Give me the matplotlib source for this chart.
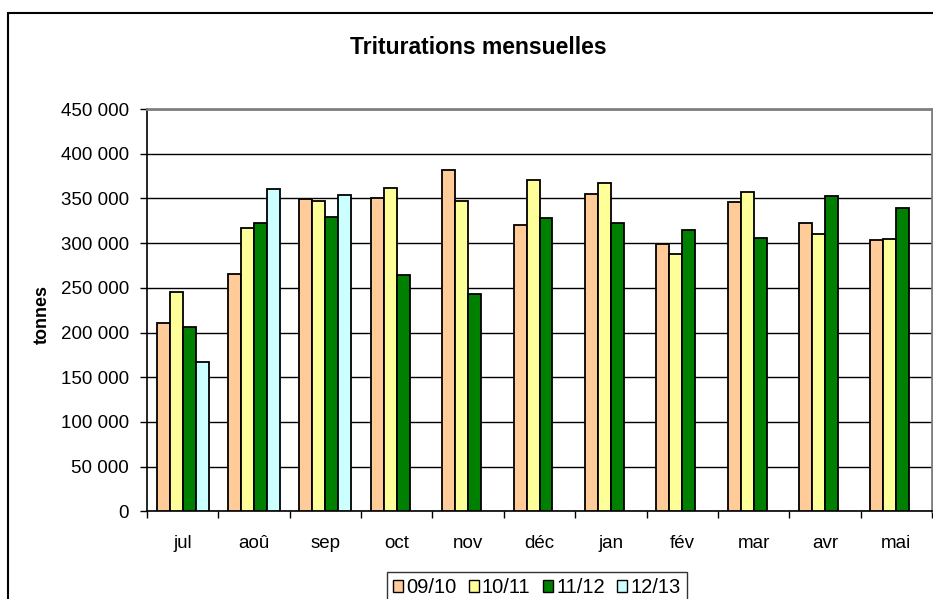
import numpy as np
import matplotlib
matplotlib.use("Agg")
import matplotlib.pyplot as plt
from matplotlib.patches import Patch, Rectangle
from matplotlib.ticker import FuncFormatter

plt.rcParams['font.family'] = ['Liberation Sans', 'DejaVu Sans']

# données (tonnes)
mois = ["jul", "aoû", "sep", "oct", "nov", "déc", "jan", "fév", "mar", "avr", "mai"]
c0910 = [211000, 265000, 349600, 350700, 382000, 320000, 354800, 299300, 346300, 322000, 303400]
c1011 = [245000, 317000, 346600, 361500, 346600, 370500, 366800, 287700, 357100, 310400, 304500]
c1112 = [206000, 323000, 329000, 264500, 243600, 328000, 323000, 314200, 305600, 352600, 338800]
c1213 = [167000, 360800, 353700]
campagnes = ["09/10", "10/11", "11/12", "12/13"]
couleurs = ["#FFCC99", "#FFFF99", "#008000", "#CCFFFF"]

W, H = 933, 599
fig = plt.figure(figsize=(W / 100, H / 100), dpi=100)
ax = fig.add_axes([147 / W, (H - 511.3) / H, (932 - 147) / W, (511.3 - 109) / H])

x = np.arange(len(mois))
w = 1 / 5.5  # gap width 150 %
series = [c0910, c1011, c1112, c1213]
for i, (vals, col) in enumerate(zip(series, couleurs)):
    xs = x[:len(vals)] + (i - 1.5) * w
    ax.bar(xs, vals, width=w, color=col, edgecolor="black", linewidth=1.3, zorder=3)

ax.set_xlim(-0.5, len(mois) - 0.5)
ax.set_ylim(0, 450000)
ax.set_yticks(np.arange(0, 450001, 50000))
ax.yaxis.set_major_formatter(FuncFormatter(lambda v, p: f"{int(v):,}".replace(",", " ")))
ax.set_xticks(x)
ax.set_xticklabels(mois)
ax.set_xticks(np.arange(-0.5, len(mois)), minor=True)
ax.tick_params(axis="x", which="major", length=0, pad=17, labelsize=13.5)
ax.tick_params(axis="x", which="minor", length=5, width=1, color="black")
ax.tick_params(axis="y", length=5, width=1, pad=8, labelsize=13.5)

ax.grid(axis="y", color="black", linewidth=1, zorder=0)
for s in ["top", "right"]:
    ax.spines[s].set_color("#808080")
    ax.spines[s].set_linewidth(2)
for s in ["left", "bottom"]:
    ax.spines[s].set_color("black")
    ax.spines[s].set_linewidth(1.2)

fig.text(42 / W, 1 - 314 / H, "tonnes", rotation=90, ha="center", va="center",
         fontsize=13, fontweight="bold")
fig.text(478 / W, 1 - 47 / H, "Triturations mensuelles", ha="center", va="center",
         fontsize=16.5, fontweight="bold")

handles = [Patch(facecolor=c, edgecolor="black", linewidth=1) for c in couleurs]
leg = fig.legend(handles, campagnes, loc="upper left", bbox_to_anchor=(387 / W, 1 - 572 / H),
                 ncol=4, fontsize=14.5, frameon=True, fancybox=False, handlelength=0.5,
                 handleheight=0.5, handletextpad=0.15, columnspacing=0.62,
                 borderpad=0.3, borderaxespad=0)
leg.get_frame().set_edgecolor("black")
leg.get_frame().set_linewidth(1)

# cadre extérieur du graphique
fig.patches.append(Rectangle((8 / W, -0.1), 1.2, (H - 13) / H + 0.1, transform=fig.transFigure,
                             fill=False, edgecolor="black", linewidth=1.5))

fig.savefig("out.png", dpi=100)
